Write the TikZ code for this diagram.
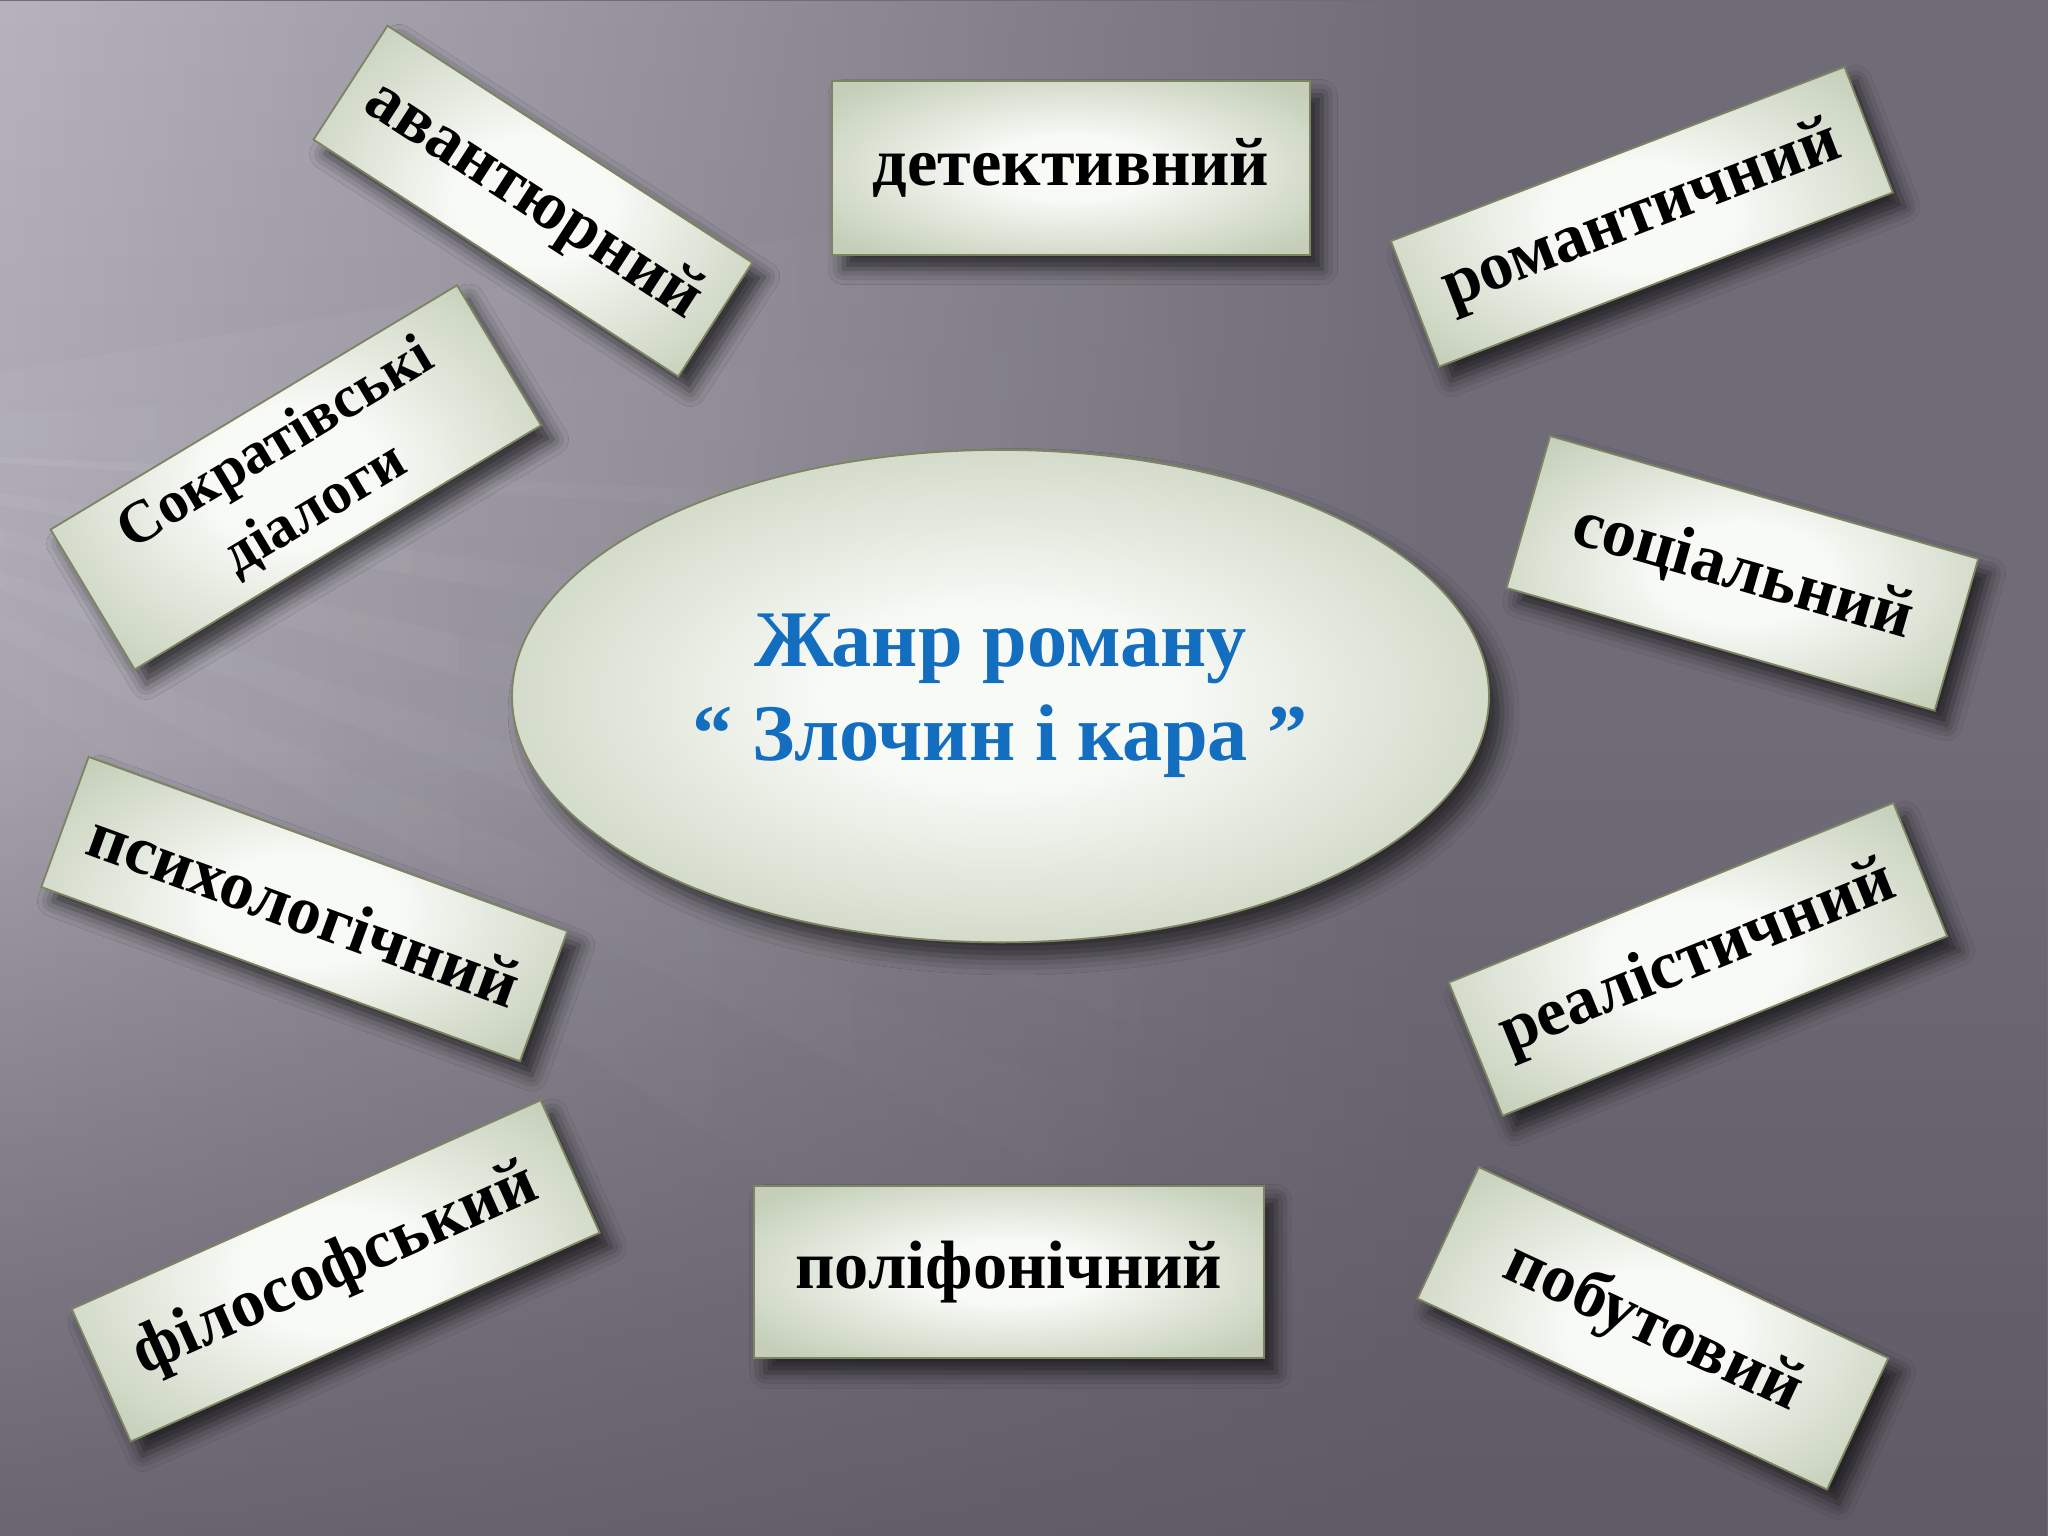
\documentclass[tikz,border=0pt]{standalone}
\usepackage{fontspec}
\setmainfont{Liberation Serif}
\usetikzlibrary{shapes.geometric,shadows.blur,fadings}
\definecolor{bgBase}{RGB}{112,108,119}
\definecolor{bgLight}{RGB}{182,179,190}
\definecolor{bgMid}{RGB}{150,146,156}
\definecolor{bgDark}{RGB}{88,83,94}
\definecolor{cardIn}{RGB}{248,250,246}
\definecolor{cardOut}{RGB}{196,206,184}
\definecolor{cardEdge}{RGB}{126,132,96}
\definecolor{titleBlue}{RGB}{20,110,192}
\pgfdeclareradialshading{cardshade}{\pgfpoint{0bp}{0bp}}{color(0bp)=(cardIn); color(9bp)=(cardIn); color(32bp)=(cardOut); color(50bp)=(cardOut)}
\tikzfading[name=fadeRight, left color=transparent!0, right color=transparent!100]
\tikzfading[name=fadeUp, bottom color=transparent!0, top color=transparent!100]

\begin{document}
\begin{tikzpicture}[
  card/.style 2 args={shape=rectangle, shading=cardshade, draw=cardEdge, line width=0.4pt,
    minimum width=#1, minimum height=#2, inner sep=0pt, align=center,
    font=\fontsize{14.9}{16}\selectfont\bfseries,
    blur shadow={shadow xshift=0.09cm, shadow yshift=-0.11cm, shadow blur radius=0.12cm, shadow opacity=65}},
  hub/.style={ellipse, shading=cardshade, draw=cardEdge, line width=0.4pt,
    minimum width=7.48cm, minimum height=3.77cm, inner sep=0pt, align=center,
    text=titleBlue, font=\fontsize{17.5}{20.5}\selectfont\bfseries,
    blur shadow={shadow xshift=0.1cm, shadow yshift=-0.12cm, shadow blur radius=0.13cm, shadow opacity=60}}]

\useasboundingbox (0,0) rectangle (15.68,11.76);

% Background
\fill[bgBase] (0,0) rectangle (15.68,11.76);
\shade[top color=bgLight, bottom color=bgMid, path fading=fadeRight] (0,0) rectangle (11,11.76);
\fill[bgDark, opacity=.7, path fading=fadeUp] (0,0) rectangle (15.68,6);
% light rays from the left
\foreach \ya/\yb/\op in {10.6/9.2/.06, 9.2/7.6/.08, 7.8/6.2/.07, 6.6/4.8/.06, 5.4/3.4/.06, 4.0/1.8/.05, 2.6/0.2/.04}
  \fill[white, opacity=\op, path fading=fadeRight] (-3,8.4) -- (10,\ya) -- (10,\yb) -- cycle;

% Centre
\node[hub] (genre) at (7.66,6.43) {Жанр роману\\“ Злочин і кара ”};

% Genre cards
\node[card={3.33cm}{1.04cm}, rotate=-33] (avant)  at (4.08,10.22) {авантюрний};
\node[card={3.66cm}{1.33cm}]             (detect) at (8.20,10.475) {детективний};
\node[card={3.72cm}{1.03cm}, rotate=21]  (roman)  at (12.57,10.10) {романтичний};
\node[card={3.63cm}{1.25cm}, rotate=31, font=\fontsize{13}{16.5}\selectfont\bfseries] (socr) at (2.265,8.105) {Сократівські\\діалоги};
\node[card={3.41cm}{1.21cm}, rotate=-16] (social) at (13.34,7.37) {соціальний};
\node[card={3.90cm}{1.06cm}, rotate=-20] (psych)  at (2.33,4.80) {психологічний};
\node[card={3.67cm}{1.10cm}, rotate=22]  (real)   at (13.00,4.415) {реалістичний};
\node[card={3.93cm}{1.11cm}, rotate=24]  (philos) at (2.57,2.03) {філософський};
\node[card={3.91cm}{1.32cm}]             (poly)   at (7.725,2.02) {поліфонічний};
\node[card={3.46cm}{1.11cm}, rotate=-25] (everyd) at (12.655,1.59) {побутовий};

\end{tikzpicture}
\end{document}
